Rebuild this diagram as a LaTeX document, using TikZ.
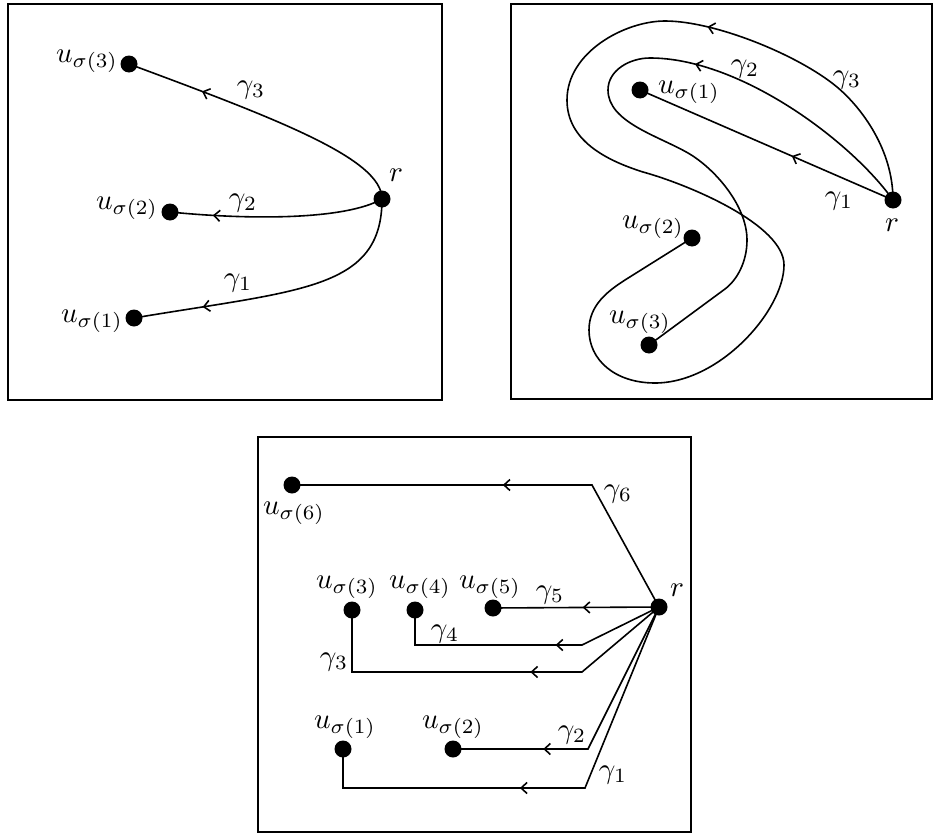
\documentclass[tikz,border=0pt]{standalone}
\usetikzlibrary{arrows.meta,decorations.markings}
\begin{document}
\begin{tikzpicture}[x=1pt,y=-1pt,
  dot/.style={circle,fill=black,inner sep=0pt,minimum size=17pt},
  lbl/.style={inner sep=0pt,scale=2.9},
  conn/.style={line width=1.6pt},
  frame/.style={line width=1.8pt},
  marr/.style={postaction={decorate},decoration={markings,mark=at position #1 with {\arrow{Straight Barb[length=6pt,width=11pt]}}}}
]
\useasboundingbox (0,0) rectangle (935,835);
% frames
\draw[frame] (8,4) rectangle (442,400);
\draw[frame] (511,4) rectangle (932,399);
\draw[frame] (258,437) rectangle (691,832);

% ---------- top-left panel ----------
\node[dot] (tlr) at (382,199) {};
\node[dot] (tlu3) at (129,64) {};
\node[dot] (tlu2) at (170,212) {};
\node[dot] (tlu1) at (134,318) {};
\node[lbl] (tlrl) at (396,175) {$r$};
\node[lbl] (tlu3l) at (87,61) {$u_{\sigma(3)}$};
\node[lbl] (tlu2l) at (127,208) {$u_{\sigma(2)}$};
\node[lbl] (tlu1l) at (92,321) {$u_{\sigma(1)}$};
\node[lbl] (tlg3) at (251,90) {$\gamma_3$};
\node[lbl] (tlg2) at (243,203) {$\gamma_2$};
\node[lbl] (tlg1) at (238,283) {$\gamma_1$};
\draw[conn,marr=0.735] (tlr.center) .. controls (382,159) and (280,120) .. (tlu3.center);
\draw[conn,marr=0.80] (tlr.center) .. controls (345,220) and (250,220) .. (tlu2.center);
\draw[conn,marr=0.77] (tlr.center) .. controls (382,290) and (300,290) .. (tlu1.center);

% ---------- top-right panel ----------
\node[dot] (trr) at (893,200) {};
\node[dot] (tru1) at (640,90) {};
\node[dot] (tru2) at (692,238) {};
\node[dot] (tru3) at (649,345) {};
\node[lbl] (trrl) at (892,225) {$r$};
\node[lbl] (tru1l) at (689,92) {$u_{\sigma(1)}$};
\node[lbl] (tru2l) at (653,227) {$u_{\sigma(2)}$};
\node[lbl] (tru3l) at (640,322) {$u_{\sigma(3)}$};
\node[lbl] (trg1) at (839,201) {$\gamma_1$};
\node[lbl] (trg2) at (745,69) {$\gamma_2$};
\node[lbl] (trg3) at (847,80) {$\gamma_3$};
\draw[conn,marr=0.40] (trr.center) -- (tru1.center);
% gamma_2 (inner)
\draw[conn,marr=0.342] (trr.center)
  .. controls (851,141) and (740,58) .. (650,58)
  .. controls (630,58) and (608,70) .. (608,90)
  .. controls (608,122) and (657.5,135.5) .. (688,153)
  .. controls (714,168) and (747,205) .. (747,240)
  .. controls (747,262) and (737,280) .. (725,289)
  -- (tru3.center);
% gamma_3 (outer)
\draw[conn,marr=0.234] (trr.center)
  .. controls (893,150) and (862,108) .. (837,87)
  .. controls (798.5,55) and (715,21) .. (665,21)
  .. controls (625,21) and (567,52) .. (567,100)
  .. controls (567,140) and (605,160) .. (643,172)
  .. controls (690,185) and (784,225) .. (784,265)
  .. controls (784,310) and (720,383) .. (655,383)
  .. controls (615,383) and (589,360) .. (589,330)
  .. controls (589,305) and (608,291) .. (625,280)
  -- (tru2.center);

% ---------- bottom panel ----------
\node[dot] (br) at (659,607) {};
\node[dot] (bu6) at (292,485) {};
\node[dot] (bu5) at (493,608) {};
\node[dot] (bu4) at (415,610) {};
\node[dot] (bu3) at (352,610) {};
\node[dot] (bu2) at (453,749) {};
\node[dot] (bu1) at (343,749) {};
\coordinate (c6) at (592,485);
\coordinate (c4a) at (582,645);
\coordinate (c4b) at (415,645);
\coordinate (c3a) at (582,672);
\coordinate (c3b) at (352,672);
\coordinate (c2) at (588,749);
\coordinate (c1a) at (585,788);
\coordinate (c1b) at (343,788);
\node[lbl] (brl) at (677,590) {$r$};
\node[lbl] (bu6l) at (294,513) {$u_{\sigma(6)}$};
\node[lbl] (bu5l) at (490,587) {$u_{\sigma(5)}$};
\node[lbl] (bu4l) at (420,587) {$u_{\sigma(4)}$};
\node[lbl] (bu3l) at (347,587) {$u_{\sigma(3)}$};
\node[lbl] (bu2l) at (453,727) {$u_{\sigma(2)}$};
\node[lbl] (bu1l) at (345,727) {$u_{\sigma(1)}$};
\node[lbl] (bg6) at (618,494) {$\gamma_6$};
\node[lbl] (bg5) at (550,595) {$\gamma_5$};
\node[lbl] (bg4) at (445,634) {$\gamma_4$};
\node[lbl] (bg3) at (334,662) {$\gamma_3$};
\node[lbl] (bg2) at (572,735) {$\gamma_2$};
\node[lbl] (bg1) at (613,775) {$\gamma_1$};
\draw[conn,marr=0.52] (br.center) -- (c6) -- (bu6.center);
\draw[conn,marr=0.46] (br.center) -- (bu5.center);
\draw[conn,marr=0.39] (br.center) -- (c4a) -- (c4b) -- (bu4.center);
\draw[conn,marr=0.388] (br.center) -- (c3a) -- (c3b) -- (bu3.center);
\draw[conn,marr=0.693] (br.center) -- (c2) -- (bu2.center);
\draw[conn,marr=0.547] (br.center) -- (c1a) -- (c1b) -- (bu1.center);
\end{tikzpicture}
\end{document}
